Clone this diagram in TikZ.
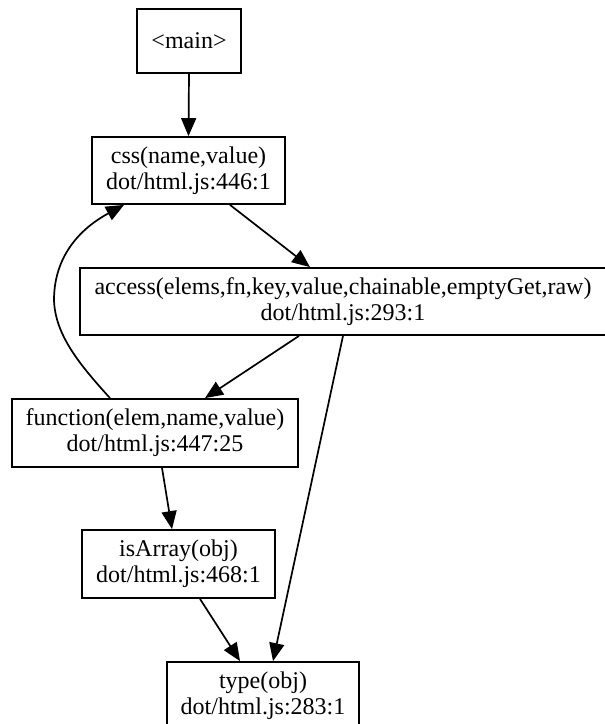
\documentclass[tikz,border=0pt]{standalone}
\usepackage{fontspec}
\setmainfont{Liberation Serif}
\usetikzlibrary{arrows.meta}

\tikzset{
  fnbox/.style={draw, line width=1.8pt, rectangle, inner sep=0pt,
    align=center, font=\fontsize{24}{26}\selectfont},
  call/.style={line width=1.7pt, -{Triangle[length=18pt,width=15pt]}}
}

\begin{document}
\begin{tikzpicture}[x=1pt, y=-1pt]
  \useasboundingbox (0,0) rectangle (605,724);
  \fill[white] (0,0) rectangle (605,724);
  \clip (0,0) rectangle (605,724);

  % call-graph nodes
  \node[fnbox, minimum width=104pt, minimum height=64pt] (main) at (189,41) {<main>};
  \node[fnbox, minimum width=193pt, minimum height=67pt] (css) at (188.5,170.5)
    {css(name,value)\\dot/html.js:446:1};
  \node[fnbox, minimum width=526pt, minimum height=67pt] (access) at (343,301.5)
    {access(elems,fn,key,value,chainable,emptyGet,raw)\\dot/html.js:293:1};
  \node[fnbox, minimum width=286pt, minimum height=68pt] (func) at (155,433)
    {function(elem,name,value)\\dot/html.js:447:25};
  \node[fnbox, minimum width=193pt, minimum height=68pt] (isarray) at (178.5,564)
    {isArray(obj)\\dot/html.js:468:1};
  \node[fnbox, minimum width=192pt, minimum height=67pt] (type) at (263,695.5)
    {type(obj)\\dot/html.js:283:1};

  % calls
  \draw[call] (main.south) -- (css.north);
  \draw[call] ([xshift=41.5pt]css.south) -- ([xshift=-33pt]access.north);
  \draw[call] ([xshift=-44pt]access.south) -- ([xshift=50pt]func.north);
  \draw[call] (access.south) -- ([xshift=10pt]type.north);
  \draw[call] ([xshift=7pt]func.south) -- ([xshift=-6.5pt]isarray.north);
  \draw[call] ([xshift=21.5pt]isarray.south) -- ([xshift=-23pt]type.north);
  \draw[call] ([xshift=-45pt]func.north)
    .. controls (80,365) and (55,335) .. (54,300)
    .. controls (54,262) and (74,232) .. ([xshift=-64.5pt]css.south);
\end{tikzpicture}
\end{document}
